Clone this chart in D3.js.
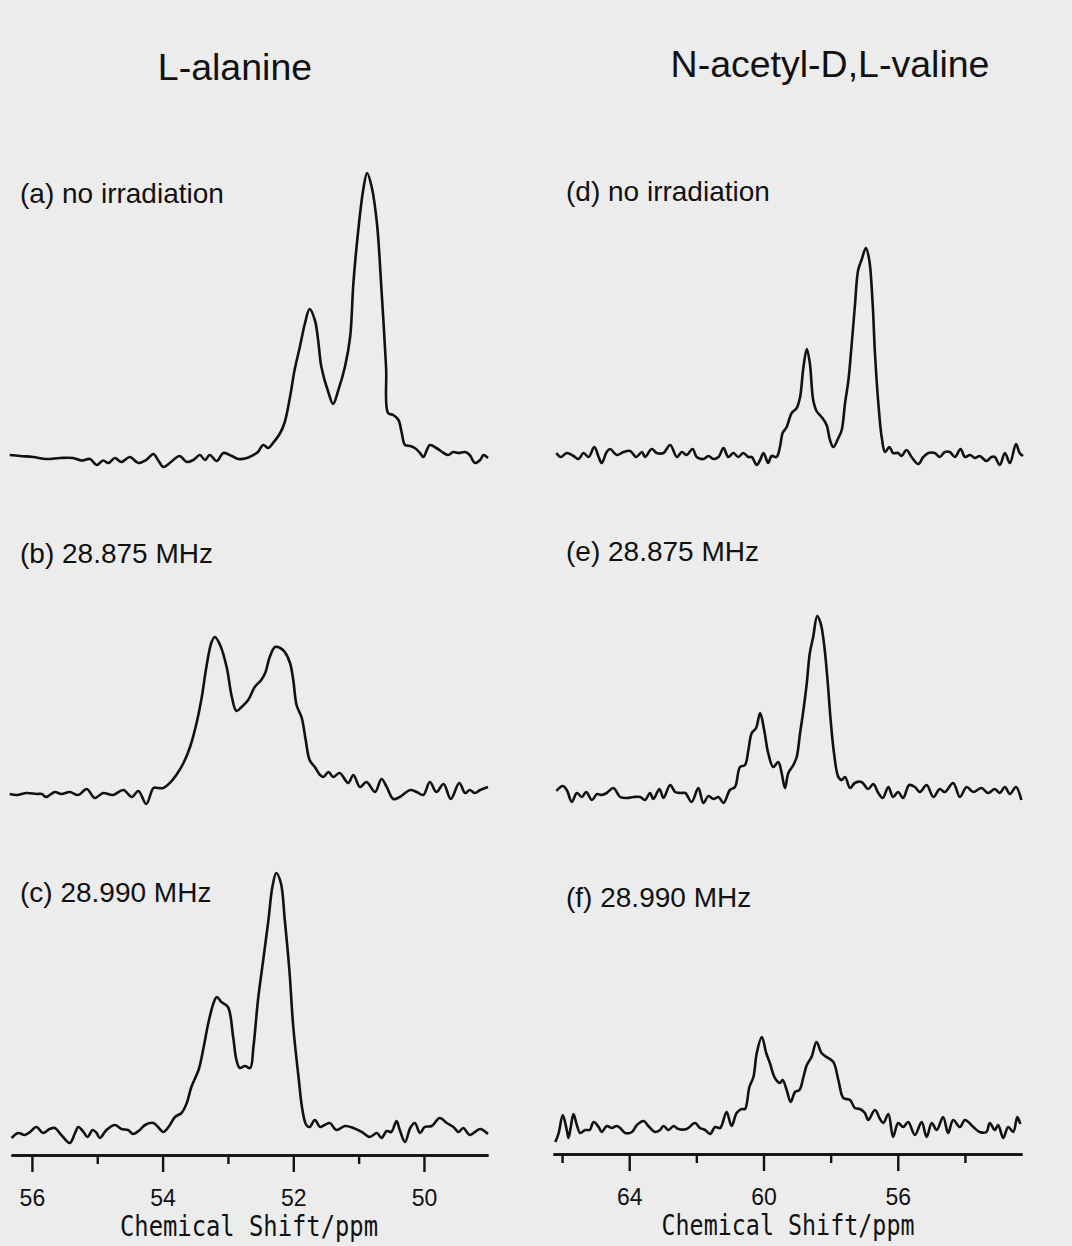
<!DOCTYPE html>
<html><head><meta charset="utf-8">
<script src="https://cdn.jsdelivr.net/npm/d3@7"></script>
<style>body{margin:0;background:#ececec}svg{display:block}</style>
</head><body><svg id="c" width="1072" height="1246"></svg>
<script>
// ---------- data ----------
const titles = ["L-alanine", "N-acetyl-D,L-valine"];
const panelLabels = ["(a) no irradiation", "(b) 28.875 MHz", "(c) 28.990 MHz",
                     "(d) no irradiation", "(e) 28.875 MHz", "(f) 28.990 MHz"];
const alaMajorTicks = [56, 54, 52, 50];
const alaMinorTicks = [55, 53, 51];
const valMajorTicks = [64, 60, 56];
const valMinorTicks = [66, 62, 58, 54];
const axisTitle = "Chemical Shift/ppm";

// [chemical shift (ppm), intensity (arb.)]
const specA = [[56.34,10],[56.18,9],[55.98,8],[55.78,6],[55.57,7],[55.37,7],[55.24,4.5],[55.11,6],[55.01,0],[54.91,4.5],[54.83,2],[54.73,7],[54.63,3],[54.50,8],[54.37,2],[54.25,5],[54.14,11],[54.07,5],[53.99,-2],[53.89,2],[53.74,9],[53.63,3],[53.53,5],[53.43,10],[53.35,5],[53.28,10],[53.17,4],[53.07,12],[52.94,9],[52.84,6],[52.71,7],[52.61,10],[52.54,13],[52.46,20],[52.38,17],[52.31,22],[52.20,32],[52.13,43],[52.05,68],[51.98,95],[51.90,118],[51.82,142],[51.75,156],[51.67,145],[51.62,125],[51.57,98],[51.46,72],[51.39,61],[51.31,75],[51.21,98],[51.13,128],[51.08,182],[51.01,232],[50.93,275],[50.87,292],[50.80,278],[50.72,242],[50.65,175],[50.58,98],[50.55,52],[50.47,50],[50.39,45],[50.34,32],[50.29,20],[50.21,19],[50.14,17],[50.06,12],[50.01,8],[49.91,20],[49.81,17],[49.70,12],[49.63,10],[49.55,13],[49.47,12],[49.37,13],[49.30,10],[49.22,2],[49.14,5],[49.09,10],[49.02,7]];

const specB = [[56.34,11],[56.23,10],[56.08,12],[55.93,11],[55.85,11],[55.78,8],[55.65,13],[55.55,11],[55.42,13],[55.29,10],[55.16,16],[55.04,7],[54.91,12],[54.76,10],[54.60,15],[54.47,8],[54.37,14],[54.25,1],[54.14,17],[54.07,17],[53.99,17],[53.89,22],[53.79,30],[53.68,42],[53.58,58],[53.48,82],[53.40,108],[53.33,138],[53.25,163],[53.20,168],[53.12,160],[53.02,138],[52.94,108],[52.87,94],[52.79,98],[52.69,105],[52.59,118],[52.49,125],[52.43,132],[52.36,148],[52.28,158],[52.20,157],[52.13,153],[52.05,142],[52.00,125],[51.95,100],[51.87,87],[51.81,65],[51.75,45],[51.67,38],[51.59,30],[51.54,28],[51.46,33],[51.39,28],[51.29,32],[51.16,22],[51.08,30],[50.98,18],[50.88,23],[50.75,13],[50.65,26],[50.57,18],[50.47,6],[50.37,8],[50.21,15],[50.11,13],[50.01,10],[49.91,23],[49.81,13],[49.70,21],[49.59,6],[49.46,22],[49.37,12],[49.30,15],[49.22,12],[49.14,15],[49.02,18]];

const specC = [[56.31,10],[56.21,15],[56.11,13],[56.03,16],[55.93,21],[55.83,15],[55.73,19],[55.65,20],[55.55,13],[55.42,5],[55.34,15],[55.29,21],[55.21,16],[55.15,11],[55.07,18],[55.01,15],[54.96,10],[54.86,18],[54.73,23],[54.63,19],[54.53,18],[54.45,14],[54.35,18],[54.27,23],[54.14,25],[54.07,21],[53.99,16],[53.91,21],[53.81,31],[53.71,35],[53.63,45],[53.56,61],[53.45,78],[53.38,98],[53.30,125],[53.22,145],[53.17,151],[53.10,146],[53.00,141],[52.92,111],[52.87,88],[52.82,80],[52.74,82],[52.66,80],[52.61,101],[52.54,148],[52.46,188],[52.38,228],[52.32,261],[52.26,275],[52.19,265],[52.13,228],[52.06,178],[52.00,121],[51.92,71],[51.86,38],[51.80,23],[51.75,21],[51.67,28],[51.59,21],[51.52,23],[51.44,25],[51.34,18],[51.21,22],[51.08,20],[50.95,16],[50.83,11],[50.72,15],[50.65,10],[50.57,17],[50.50,16],[50.42,27],[50.37,18],[50.29,6],[50.21,20],[50.14,25],[50.06,15],[49.99,21],[49.88,22],[49.76,30],[49.65,25],[49.55,21],[49.47,16],[49.40,20],[49.30,13],[49.22,16],[49.14,19],[49.02,14]];

const specD = [[66.17,15],[66.04,11],[65.86,15],[65.66,12],[65.51,9],[65.36,15],[65.21,11],[65.04,21],[64.91,11],[64.82,5],[64.67,16],[64.57,19],[64.37,13],[64.17,16],[63.97,17],[63.79,11],[63.62,16],[63.53,11],[63.33,19],[63.18,15],[62.98,15],[62.78,23],[62.58,11],[62.43,16],[62.29,13],[62.11,19],[61.99,11],[61.79,9],[61.64,12],[61.49,9],[61.34,11],[61.19,20],[61.05,11],[60.90,15],[60.75,11],[60.60,15],[60.45,11],[60.35,11],[60.20,3],[60.10,8],[60.00,15],[59.86,5],[59.76,12],[59.61,11],[59.51,21],[59.43,35],[59.31,41],[59.16,55],[59.01,60],[58.91,71],[58.81,101],[58.71,119],[58.62,105],[58.52,68],[58.42,57],[58.27,51],[58.12,43],[58.02,28],[57.92,21],[57.77,30],[57.67,38],[57.57,65],[57.47,88],[57.38,121],[57.28,161],[57.18,198],[57.08,208],[56.95,220],[56.85,208],[56.75,165],[56.68,115],[56.58,65],[56.48,31],[56.38,16],[56.25,21],[56.14,15],[55.99,15],[55.89,12],[55.74,18],[55.59,11],[55.39,4],[55.24,11],[55.09,15],[54.90,15],[54.75,11],[54.60,16],[54.45,16],[54.30,11],[54.13,19],[54.00,11],[53.85,13],[53.70,10],[53.56,12],[53.36,7],[53.21,11],[53.11,11],[52.96,3],[52.81,15],[52.66,5],[52.48,24],[52.37,15],[52.27,12]];

const specE = [[66.17,17],[65.98,22],[65.86,18],[65.71,6],[65.56,15],[65.41,11],[65.28,16],[65.11,8],[64.96,14],[64.82,13],[64.67,15],[64.47,20],[64.27,11],[64.07,10],[63.87,11],[63.67,11],[63.53,8],[63.38,15],[63.28,9],[63.10,19],[62.98,10],[62.78,23],[62.63,16],[62.48,15],[62.33,15],[62.14,6],[61.94,20],[61.79,5],[61.64,12],[61.49,9],[61.34,11],[61.19,5],[61.00,18],[60.85,21],[60.70,41],[60.55,43],[60.45,58],[60.35,75],[60.22,80],[60.10,95],[59.98,78],[59.86,55],[59.71,41],[59.56,46],[59.46,35],[59.36,20],[59.26,35],[59.11,43],[59.01,51],[58.91,75],[58.81,98],[58.71,125],[58.62,155],[58.52,171],[58.40,192],[58.30,185],[58.20,165],[58.10,131],[58.00,88],[57.90,55],[57.77,31],[57.67,28],[57.57,31],[57.42,20],[57.28,25],[57.08,26],[56.88,19],[56.73,24],[56.58,15],[56.45,10],[56.28,21],[56.14,11],[55.99,16],[55.84,10],[55.66,23],[55.49,21],[55.34,16],[55.14,23],[54.94,11],[54.75,19],[54.60,16],[54.35,25],[54.15,11],[53.95,21],[53.75,16],[53.51,20],[53.31,15],[53.11,19],[52.96,15],[52.81,21],[52.66,14],[52.48,21],[52.32,8]];

const specF = [[66.20,3],[66.10,12],[65.98,30],[65.86,15],[65.81,7],[65.74,18],[65.66,31],[65.56,20],[65.46,12],[65.31,15],[65.18,15],[65.06,23],[64.91,18],[64.82,13],[64.67,19],[64.52,17],[64.37,19],[64.27,17],[64.12,12],[63.92,13],[63.77,20],[63.57,24],[63.43,19],[63.23,13],[63.08,15],[62.98,19],[62.83,15],[62.68,19],[62.53,16],[62.29,16],[62.04,22],[61.89,17],[61.74,15],[61.59,11],[61.44,18],[61.29,17],[61.10,33],[60.95,19],[60.80,32],[60.65,36],[60.55,36],[60.42,58],[60.30,68],[60.20,92],[60.05,108],[59.92,92],[59.81,82],[59.66,67],[59.51,62],[59.43,65],[59.31,55],[59.19,43],[59.06,53],[58.93,55],[58.81,68],[58.71,80],[58.57,88],[58.42,103],[58.27,92],[58.12,88],[57.92,83],[57.77,65],[57.62,47],[57.42,45],[57.28,37],[57.13,36],[56.98,32],[56.88,25],[56.68,35],[56.53,26],[56.43,22],[56.28,31],[56.14,8],[55.99,22],[55.84,18],[55.69,23],[55.49,10],[55.29,23],[55.14,8],[54.99,22],[54.84,15],[54.65,28],[54.50,12],[54.35,25],[54.15,18],[54.00,25],[53.75,18],[53.56,13],[53.36,13],[53.26,22],[53.11,15],[53.01,20],[52.86,7],[52.71,18],[52.56,13],[52.44,28],[52.35,21]];

// ---------- layout ----------
const svg = d3.select("#c");
svg.append("rect").attr("width",1072).attr("height",1246).attr("fill","#ececec");

const xL = d3.scaleLinear().domain([56.32, 49.02]).range([11, 488]);
const xR = d3.scaleLinear().domain([66.27, 52.30]).range([553, 1022]);

const panels = [
  {data: specA, x: xL, base: 465,  label: panelLabels[0], lx: 20,  ly: 203},
  {data: specB, x: xL, base: 805,  label: panelLabels[1], lx: 20,  ly: 563},
  {data: specC, x: xL, base: 1148, label: panelLabels[2], lx: 20,  ly: 902},
  {data: specD, x: xR, base: 468,  label: panelLabels[3], lx: 566, ly: 201},
  {data: specE, x: xR, base: 808,  label: panelLabels[4], lx: 566, ly: 561},
  {data: specF, x: xR, base: 1145, label: panelLabels[5], lx: 566, ly: 907}
];

const ink = "#111";
panels.forEach(p => {
  const y = d3.scaleLinear().domain([0, 300]).range([p.base, p.base - 300]);
  const line = d3.line().x(d => p.x(d[0])).y(d => y(d[1])).curve(d3.curveCatmullRom.alpha(0.5));
  svg.append("path").datum(p.data).attr("d", line)
    .attr("fill", "none").attr("stroke", ink).attr("stroke-width", 2.6)
    .attr("stroke-linejoin", "round");
  svg.append("text").attr("x", p.lx).attr("y", p.ly).text(p.label)
    .attr("font-family", "Liberation Sans, Arial, sans-serif").attr("font-size", 28).attr("fill", ink);
});

// titles
svg.append("text").attr("x", 235).attr("y", 80).attr("text-anchor", "middle").text(titles[0])
  .attr("font-family", "Liberation Sans, Arial, sans-serif").attr("font-size", 37.5).attr("fill", ink);
svg.append("text").attr("x", 830).attr("y", 77).attr("text-anchor", "middle").text(titles[1])
  .attr("font-family", "Liberation Sans, Arial, sans-serif").attr("font-size", 37.5).attr("fill", ink);

// axes
function drawAxis(x, yPos, major, minor, titleX, titleY, titleW) {
  const gMaj = svg.append("g").attr("transform", `translate(0,${yPos})`)
    .call(d3.axisBottom(x).tickValues(major).tickSize(17).tickSizeOuter(0).tickPadding(18).tickFormat(d3.format("d")));
  const gMin = svg.append("g").attr("transform", `translate(0,${yPos})`)
    .call(d3.axisBottom(x).tickValues(minor).tickSize(9).tickSizeOuter(0).tickFormat(""));
  [gMaj, gMin].forEach(g => {
    g.selectAll("path,line").attr("stroke", ink).attr("stroke-width", 2.4);
  });
  gMaj.selectAll("text").attr("font-family", "Liberation Sans, Arial, sans-serif")
    .attr("font-size", 23).attr("fill", ink);
  svg.append("text").attr("x", titleX).attr("y", titleY).attr("text-anchor", "middle")
    .attr("font-family", "DejaVu Sans Mono, monospace").attr("font-size", 29)
    .attr("textLength", titleW).attr("lengthAdjust", "spacingAndGlyphs")
    .attr("fill", ink).text(axisTitle);
}
drawAxis(xL, 1155, alaMajorTicks, alaMinorTicks, 249, 1236, 258);
drawAxis(xR, 1154, valMajorTicks, valMinorTicks, 788, 1235, 253);
</script>
</body></html>
